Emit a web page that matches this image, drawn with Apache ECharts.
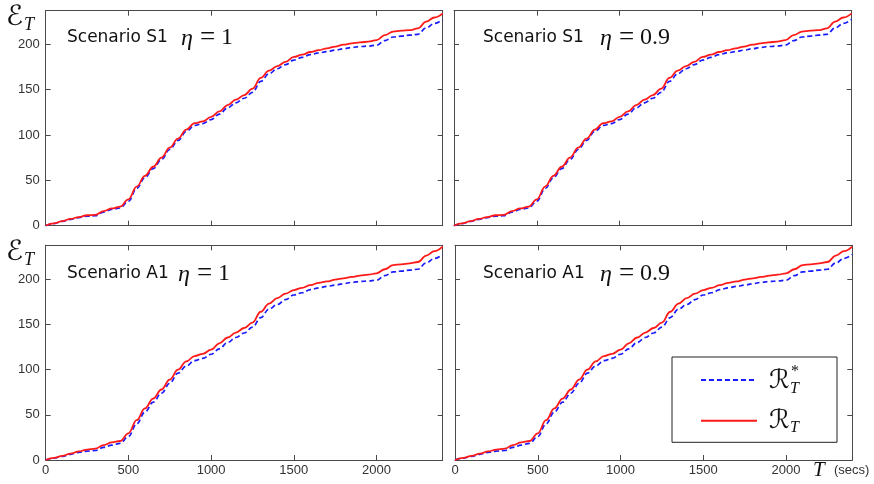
<!DOCTYPE html>
<html><head><meta charset="utf-8">
<script src="https://cdn.jsdelivr.net/npm/echarts@6/dist/echarts.min.js"></script>
<style>html,body{margin:0;padding:0;background:#fff}#c{width:874px;height:484px}</style>
</head><body><div id="c"></div>
<script>
// ---- data ----
const times = [0,50,100,150,200,250,300,350,400,450,500,550,600,650,700,750,800,850,900,950,1000,1050,1100,1150,1200,1250,1300,1350,1400,1450,1500,1550,1600,1650,1700,1750,1800,1850,1900,1950,2000,2050,2100,2150,2200,2250,2300,2350,2400];
const redS1 = [0,2.5,5,7.5,9.5,11.5,12,16,19,21,29,43,55,65,75,86,96,106,113,115,120,126,133,139,144,151,163,171,176,180.5,186,188.5,191.5,193.5,195.5,197.5,199.5,201,202,203,204.5,210,214,215,215.5,217.5,225,229.5,234];
const blueS1 = [0,2.3,4.7,7,9,10.5,11,15,18,19.5,27,41,53,63,73,84,94,104,110.5,112.5,117,123,130,135.5,140.5,147,159,167.5,173,177.5,182.5,185.5,188.5,190.5,192,193.5,195,196.5,197.5,198,199,204,208,209,210,211,218,223,227.5];
const redA1 = [0,2.3,4.5,7,9.5,11.5,12.5,16.5,19.5,21,29.5,44,57,68,78,89,100,109,115,117.5,122,129,135.5,141,146,152,164,173,179,184,188,190.5,193.5,196,197.5,199.5,201,202.5,204,205,206.5,211,215.5,216.5,217.5,219,226,231,236];
const blueA1 = [0,2,4,6.3,8.5,9.8,10.5,14,16.5,18.5,26,40,53,64,74,85,96,104,110,112.5,117,123,130,135.5,140.5,147,157.5,167,172,177.5,182.5,185,188.5,190.5,192,193.5,195,196.5,197.5,198,199,204,208,209,210,211,218,223,227.5];
const panelTitles = ['Scenario S1','Scenario S1','Scenario A1','Scenario A1'];
const etaValues = ['1','0.9','1','0.9'];
const xTicks = [0,500,1000,1500,2000];
const yTicks = [0,50,100,150,200];

const panels = [
  {red: redS1, blue: blueS1},
  {red: redS1, blue: blueS1},
  {red: redA1, blue: blueA1},
  {red: redA1, blue: blueA1}
];
const grids = [
  {left:45.7, top:10.7, width:397, height:215, ymax:237},
  {left:454,  top:10.7, width:397.7, height:215, ymax:237},
  {left:45.7, top:245.3, width:397, height:214.7, ymax:237.5},
  {left:455,  top:245.3, width:397.3, height:214.7, ymax:237.5}
];
const frame = '#4a4a4a';
const labelStyle = {color:'#333', fontFamily:'Liberation Sans, Arial, sans-serif', fontSize:13};
const pair = arr => times.map((t,i)=>[t,arr[i]]);

const xAxis=[], yAxis=[], series=[];
grids.forEach((g,i)=>{
  const showX = i>=2, showY = (i%2)===0;
  ['bottom','top'].forEach(pos=>{
    xAxis.push({gridIndex:i, type:'value', min:0, max:2400, interval:500, position:pos,
      axisLine:{show:true, onZero:false, lineStyle:{color:frame, width:1}},
      axisTick:{show:true, inside:true, length:5, lineStyle:{color:frame}},
      axisLabel:Object.assign({show: pos==='bottom' && showX, margin:4, showMaxLabel:false,
        formatter: v => xTicks.includes(v) ? String(v) : ''}, labelStyle),
      splitLine:{show:false}});
  });
  ['left','right'].forEach(pos=>{
    yAxis.push({gridIndex:i, type:'value', min:0, max:g.ymax, interval:50, position:pos,
      axisLine:{show:true, onZero:false, lineStyle:{color:frame, width:1}},
      axisTick:{show:true, inside:true, length:5, lineStyle:{color:frame}},
      axisLabel:Object.assign({show: pos==='left' && showY, margin:6, showMaxLabel:false,
        formatter: v => yTicks.includes(v) ? String(v) : ''}, labelStyle),
      splitLine:{show:false}});
  });
  series.push({name:'Rstar', type:'line', xAxisIndex:2*i, yAxisIndex:2*i, data:pair(panels[i].blue),
    symbol:'none', showSymbol:false, smooth:0.4, smoothMonotone:'x', z:2,
    lineStyle:{color:'#1a1aff', width:1.7, type:[5,3]}, itemStyle:{color:'#1a1aff'}});
  series.push({name:'R', type:'line', xAxisIndex:2*i, yAxisIndex:2*i, data:pair(panels[i].red),
    symbol:'none', showSymbol:false, smooth:0.4, smoothMonotone:'x', z:3,
    lineStyle:{color:'#ff1a1a', width:1.8}, itemStyle:{color:'#ff1a1a'}});
});

const graphic = [];
const titlePos = [
  {x:67, y:38, ex:181},
  {x:483, y:38, ex:600},
  {x:67, y:274, ex:178},
  {x:483, y:274, ex:600}
];
titlePos.forEach((p,i)=>{
  graphic.push({type:'text', x:p.x, y:p.y, style:{text:panelTitles[i], fill:'#111', font:'17px "DejaVu Sans"', verticalAlign:'middle'}});
  graphic.push({type:'text', x:p.ex, y:p.y+1, style:{text:'η', fill:'#111', font:'italic 24px "Liberation Serif"', verticalAlign:'middle'}});
  graphic.push({type:'text', x:p.ex+19, y:p.y, style:{text:'=', fill:'#111', font:'27px "Liberation Serif"', verticalAlign:'middle'}});
  graphic.push({type:'text', x:p.ex+40, y:p.y, style:{text:etaValues[i], fill:'#111', font:'24px "Liberation Serif"', verticalAlign:'middle'}});
});
// y-axis labels (E_T)
[0, 235].forEach(off=>{
  graphic.push({type:'text', x:6, y:18+off, style:{text:'ℰ', fill:'#111', font:'28px "DejaVu Serif", "DejaVu Sans"', verticalAlign:'middle'}});
  graphic.push({type:'text', x:24, y:25+off, style:{text:'T', fill:'#111', font:'italic 18px "Liberation Serif"', verticalAlign:'middle'}});
});
// x-axis label
graphic.push({type:'text', x:813, y:470, style:{text:'T', fill:'#111', font:'italic 21px "Liberation Serif"', verticalAlign:'middle'}});
graphic.push({type:'text', x:834, y:470, style:{text:'(secs)', fill:'#333', font:'13px "Liberation Sans"', verticalAlign:'middle'}});
// legend labels
graphic.push({type:'text', x:769, y:381, style:{text:'ℛ', fill:'#111', font:'26px "DejaVu Serif", "DejaVu Sans"', verticalAlign:'middle'}, z:100});
graphic.push({type:'text', x:791, y:372, style:{text:'*', fill:'#111', font:'16px "Liberation Serif"', verticalAlign:'middle'}, z:100});
graphic.push({type:'text', x:790, y:389, style:{text:'T', fill:'#111', font:'italic 16px "Liberation Serif"', verticalAlign:'middle'}, z:100});
graphic.push({type:'text', x:769, y:421, style:{text:'ℛ', fill:'#111', font:'26px "DejaVu Serif", "DejaVu Sans"', verticalAlign:'middle'}, z:100});
graphic.push({type:'text', x:790, y:428, style:{text:'T', fill:'#111', font:'italic 16px "Liberation Serif"', verticalAlign:'middle'}, z:100});

const chart = echarts.init(document.getElementById('c'), null, {renderer:'canvas'});
chart.setOption({
  animation:false,
  backgroundColor:'#fff',
  grid: grids.map(g=>({left:g.left, top:g.top, width:g.width, height:g.height, containLabel:false})),
  xAxis, yAxis, series,
  legend:{
    data:['Rstar','R'], orient:'vertical', left:672, top:357,
    itemWidth:56, itemHeight:14, itemGap:26.7, padding:[16,0,14.6,28],
    borderColor:'#222', borderWidth:1, backgroundColor:'#fff',
    selectedMode:false,
    itemStyle:{opacity:0},
    formatter: () => '{w|}',
    textStyle:{rich:{w:{width:75, height:14, lineHeight:14}}}
  },
  graphic
});
</script></body></html>
